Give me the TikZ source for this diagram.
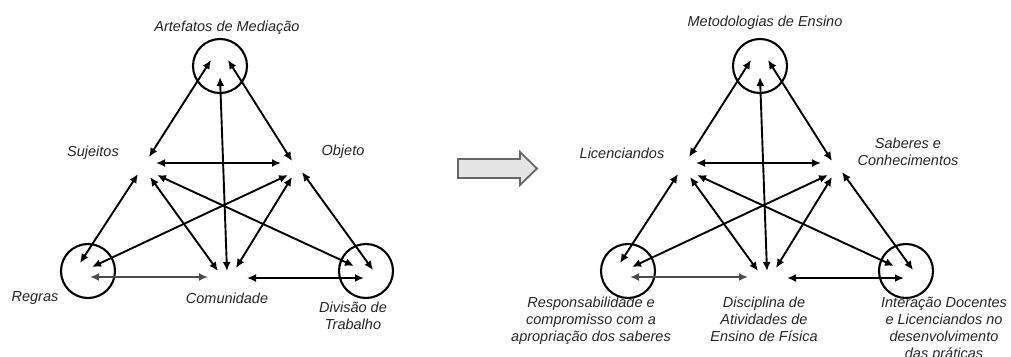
\documentclass[tikz,border=0pt]{standalone}
\usepackage{fontspec}
\setmainfont{Liberation Sans}
\usetikzlibrary{arrows.meta}

\tikzset{
  link/.style={line width=1.9pt, draw=black,
    {Latex[length=9pt,width=8pt]}-{Latex[length=9pt,width=8pt]}},
  baselink/.style={link, line width=2.8pt, draw=black!70},
  ring/.style={circle, draw, line width=2.1pt, minimum size=54pt, inner sep=0pt},
  lbl/.style={font=\itshape\fontsize{14.5}{17}\selectfont, inner sep=0pt,
    text=black!85, align=center},
  bigarrow/.style={draw=black!60, fill=black!10, line width=1.8pt, line join=miter}
}

% One activity triangle: rings, end points of the links, and the twelve links
\newcommand{\activitytriangle}{%
  \node[ring] (topring) at (220,66) {};
  \node[ring] (leftring) at (88,271) {};
  \node[ring] (rightring) at (366,271) {};
  % top vertex
  \coordinate (a1) at (211,60);
  \coordinate (a2) at (228,60);
  \coordinate (a3) at (220,77);
  % upper left vertex
  \coordinate (s1) at (149,157);
  \coordinate (s2) at (156,163);
  \coordinate (s3) at (138,174);
  \coordinate (s4) at (150,177);
  \coordinate (s5) at (157,175);
  % upper right vertex
  \coordinate (o1) at (292,161);
  \coordinate (o2) at (281,163);
  \coordinate (o3) at (288,175);
  \coordinate (o4) at (292,177);
  \coordinate (o5) at (302,172);
  % lower left vertex
  \coordinate (r1) at (80,263);
  \coordinate (r2) at (92,267);
  \coordinate (r3) at (90,277);
  % lower middle vertex
  \coordinate (c1) at (218,271);
  \coordinate (c2) at (227,271);
  \coordinate (c3) at (236,268);
  \coordinate (c4) at (208,277);
  \coordinate (c5) at (247,278);
  % lower right vertex
  \coordinate (d1) at (354,266);
  \coordinate (d2) at (373,270);
  \coordinate (d3) at (364,278);
  % links
  \draw[link] (a1) -- (s1);
  \draw[link] (a2) -- (o1);
  \draw[link] (a3) -- (c2);
  \draw[link] (s2) -- (o2);
  \draw[link] (s3) -- (r1);
  \draw[link] (s4) -- (c1);
  \draw[link] (s5) -- (d1);
  \draw[link] (o3) -- (r2);
  \draw[link] (o4) -- (c3);
  \draw[link] (o5) -- (d2);
  \draw[baselink] (r3) -- (c4);
  \draw[link] (c5) -- (d3);
}

\begin{document}
\begin{tikzpicture}[x=1pt, y=-1pt]
  \fill[white] (0,0) rectangle (1011,356);
  \useasboundingbox (0,0) rectangle (1011,356);

  % left triangle
  \begin{scope}[name prefix=L-]
    \activitytriangle
  \end{scope}
  \node[lbl] (L-tA) at (227,28) {Artefatos de Mediação};
  \node[lbl] (L-tS) at (93,153) {Sujeitos};
  \node[lbl] (L-tO) at (343,152) {Objeto};
  \node[lbl] (L-tR) at (35,298) {Regras};
  \node[lbl] (L-tC) at (227,298) {Comunidade};
  \node[lbl] (L-tD) at (353,316) {Divisão de\\Trabalho};

  % transition arrow
  \draw[bigarrow] (458,159) -- (520,159) -- (520,152) -- (537,168.5)
    -- (520,185) -- (520,178) -- (458,178) -- cycle;

  % right triangle
  \begin{scope}[xshift=540pt, name prefix=R-]
    \activitytriangle
  \end{scope}
  \node[lbl] (R-tA) at (765,23) {Metodologias de Ensino};
  \node[lbl] (R-tS) at (622,153) {Licenciandos};
  \node[lbl] (R-tO) at (908,152) {Saberes e\\Conhecimentos};
  \node[lbl, anchor=north] (R-tR) at (591,297)
    {Responsabilidade e\\compromisso com a\\apropriação dos saberes};
  \node[lbl, anchor=north] (R-tC) at (764,297)
    {Disciplina de\\Atividades de\\Ensino de Física};
  \node[lbl, anchor=north] (R-tD) at (944,297)
    {Interação Docentes\\e Licenciandos no\\desenvolvimento\\das práticas};
\end{tikzpicture}
\end{document}
